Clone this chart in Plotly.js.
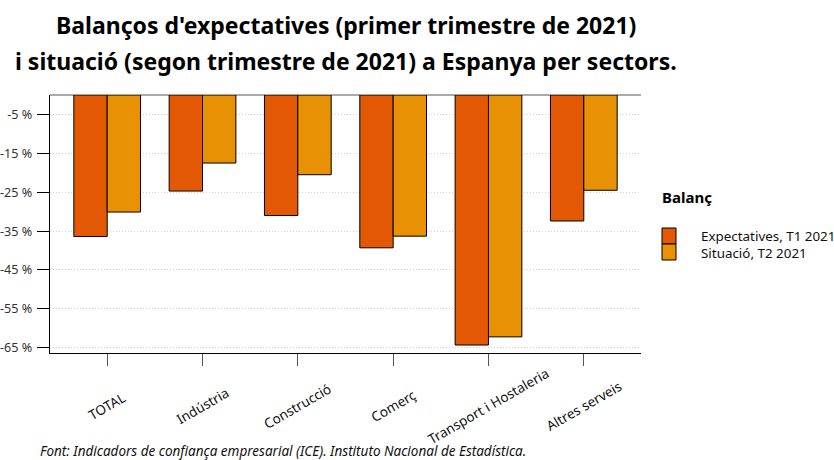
<!DOCTYPE html>
<html>
<head>
<meta charset="utf-8">
<script src="https://cdn.plot.ly/plotly-3.0.1.min.js"></script>
<style>html,body{margin:0;padding:0;background:#fff;}#chart{width:834px;height:460px;}</style>
</head>
<body>
<div id="chart"></div>
<script>
// ---- Data ----
const categories = ["TOTAL", "Indústria", "Construcció", "Comerç", "Transport i Hostaleria", "Altres serveis"];
const expectatives = [-36.4, -24.7, -31.0, -39.3, -64.3, -32.4];
const situacio = [-30.1, -17.5, -20.5, -36.3, -62.2, -24.5];
const seriesNames = ["Expectatives, T1 2021", "Situació, T2 2021"];
const yTickVals = [-5, -15, -25, -35, -45, -55, -65];
const yTickText = ["-5 %", "-15 %", "-25 %", "-35 %", "-45 %", "-55 %", "-65 %"];
const titleLines = ["Balanços d'expectatives (primer trimestre de 2021)", "i situació (segon trimestre de 2021) a Espanya per sectors."];
const legendTitle = "Balanç";
const sourceNote = "Font: Indicadors de confiança empresarial (ICE). Instituto Nacional de Estadística.";

// ---- Styles / geometry ----
const colors = ["#E35805", "#E89105"];
const FONT = "Noto Sans, Open Sans, sans-serif";
const W = 834, H = 460;
const M = {l: 50, r: 193, t: 95, b: 107};
const PW = W - M.l - M.r, PH = H - M.t - M.b;
const px = x => (x - M.l) / PW;
const py = y => (H - M.b - y) / PH;

const traces = [expectatives, situacio].map((vals, i) => ({
  type: "bar",
  x: categories,
  y: vals,
  name: seriesNames[i],
  marker: {color: colors[i], line: {color: "#000", width: 1}},
  showlegend: false,
  hoverinfo: "x+y"
}));

const annotations = [];
titleLines.forEach((t, i) => {
  annotations.push({
    text: "<b>" + t + "</b>", xref: "paper", yref: "paper",
    x: 0.5, y: py(i === 0 ? 25 : 61), xanchor: "center", yanchor: "middle",
    showarrow: false, font: {family: FONT, size: 23, color: "#000"}
  });
});
categories.forEach(c => {
  annotations.push({
    text: c, xref: "x", yref: "paper", x: c, y: py(406),
    xanchor: "center", yanchor: "middle", textangle: -30, showarrow: false,
    font: {family: FONT, size: 13.5, color: "#111"}
  });
});
annotations.push({
  text: "<b>" + legendTitle + "</b>", xref: "paper", yref: "paper",
  x: px(660), y: py(197), xanchor: "left", yanchor: "middle", showarrow: false,
  font: {family: FONT, size: 15, color: "#000"}
});
const shapes = [];
seriesNames.forEach((n, i) => {
  const top = 228 + i * 16;
  shapes.push({
    type: "rect", xref: "paper", yref: "paper",
    x0: px(662), x1: px(676), y0: py(top), y1: py(top + 16),
    fillcolor: colors[i], line: {color: "#000", width: 1}
  });
});
annotations.push({
  text: seriesNames.join("<br>"), xref: "paper", yref: "paper", x: px(699), y: py(244),
  xanchor: "left", yanchor: "middle", align: "left", showarrow: false,
  font: {family: FONT, size: 13.4, color: "#111"}
});
annotations.push({
  text: "<i>" + sourceNote + "</i>", xref: "paper", yref: "paper",
  x: px(38), y: py(451), xanchor: "left", yanchor: "middle", showarrow: false,
  font: {family: FONT, size: 13.5, color: "#111"}
});

const layout = {
  width: W, height: H,
  margin: M,
  paper_bgcolor: "#fff", plot_bgcolor: "#fff",
  font: {family: FONT, size: 13, color: "#222"},
  barmode: "group", bargap: 0.3, bargroupgap: 0,
  showlegend: false,
  xaxis: {
    type: "category", range: [-0.6, 5.6],
    showline: true, linecolor: "#000", linewidth: 1.2,
    ticks: "outside", ticklen: 12, tickcolor: "#555", tickwidth: 1,
    showticklabels: false, showgrid: false, zeroline: false, fixedrange: true
  },
  yaxis: {
    range: [-66.35, 0],
    tickvals: yTickVals, ticktext: yTickText,
    ticks: "outside", ticklen: 12, tickcolor: "#000", tickwidth: 1,
    ticklabelstandoff: 2,
    tickfont: {family: FONT, size: 12.6, color: "#333"},
    showline: true, linecolor: "#000", linewidth: 1.2,
    showgrid: true, gridcolor: "#cfcfcf", griddash: "1px,2px", gridwidth: 1,
    zeroline: true, zerolinecolor: "#aaa", zerolinewidth: 2, fixedrange: true
  },
  annotations: annotations,
  shapes: shapes
};

Plotly.newPlot("chart", traces, layout, {displayModeBar: false, staticPlot: true});
</script>
</body>
</html>
